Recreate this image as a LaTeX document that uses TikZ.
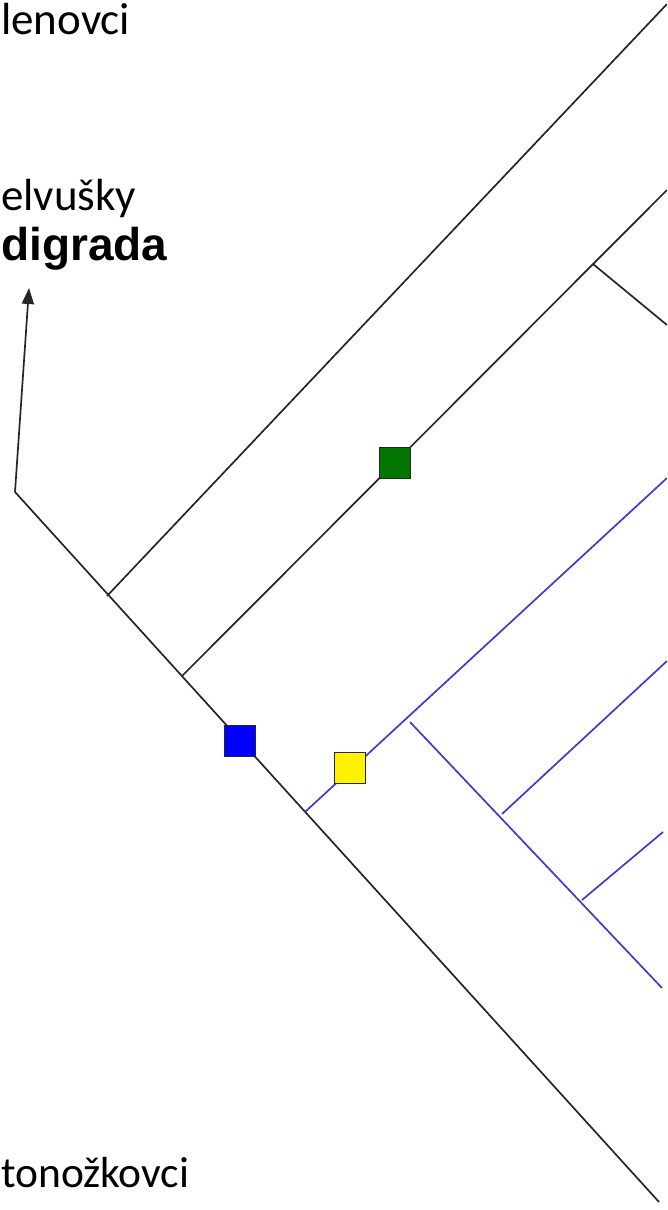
\documentclass[tikz,border=0pt]{standalone}
\usepackage{fontspec}
\setmainfont{Carlito}
\newfontfamily\boldlabel{Liberation Sans}
\usetikzlibrary{arrows.meta}
\definecolor{cladeblue}{RGB}{60,60,210}
\definecolor{sqgreen}{RGB}{0,118,0}
\tikzset{
  branch/.style={line width=1.7pt, black!85},
  bluebranch/.style={line width=1.7pt, cladeblue},
  marker/.style={draw=black!85, line width=1.5pt, minimum size=31pt, inner sep=0pt},
  taxon/.style={anchor=base west, inner sep=0pt, font=\fontsize{45}{54}\selectfont}
}

\begin{document}
\begin{tikzpicture}[x=1pt, y=-1pt]
  \useasboundingbox (0,0) rectangle (667,1210);
  \clip (0,0) rectangle (667,1210);

  \node[taxon] (lenovci) at (1,34) {lenovci};
  \node[taxon] (elvusky) at (1,210) {elvušky};
  \node[taxon, font=\fontsize{46}{54}\selectfont\boldlabel\bfseries] (digrada) at (1,260) {digrada};
  \node[taxon, font=\fontsize{43.5}{52}\selectfont] (tonozkovci) at (1,1187) {tonožkovci};

  \coordinate (root) at (15,492);
  \coordinate (tip) at (29,288);
  \coordinate (v1) at (107,596);
  \coordinate (v2) at (182,676);
  \coordinate (v3) at (305,812);
  \coordinate (end) at (659,1202);
  \coordinate (t1) at (667,4);
  \coordinate (t2) at (667,190);
  \coordinate (v4) at (593,264);
  \coordinate (t3) at (667,325);
  \coordinate (t4) at (667,478);
  \coordinate (v5) at (410,722);
  \coordinate (v6) at (502,814);
  \coordinate (v7) at (582,900);
  \coordinate (t5) at (662,988);
  \coordinate (t6) at (667,661);
  \coordinate (t7) at (663,832);

  \draw[branch, -{Triangle[length=16pt, width=12pt]}] (root) -- (tip);
  \draw[branch] (root) -- (end);
  \draw[branch] (v1) -- (t1);
  \draw[branch] (v2) -- (t2);
  \draw[branch] (v4) -- (t3);
  \draw[bluebranch] (v3) -- (t4);
  \draw[bluebranch] (v5) -- (t5);
  \draw[bluebranch] (v6) -- (t6);
  \draw[bluebranch] (v7) -- (t7);

  \node[marker, fill=blue] (sqblue) at (240,741) {};
  \node[marker, fill=yellow] (sqyellow) at (350,768) {};
  \node[marker, fill=sqgreen] (sqgreen) at (395,463) {};
\end{tikzpicture}
\end{document}
